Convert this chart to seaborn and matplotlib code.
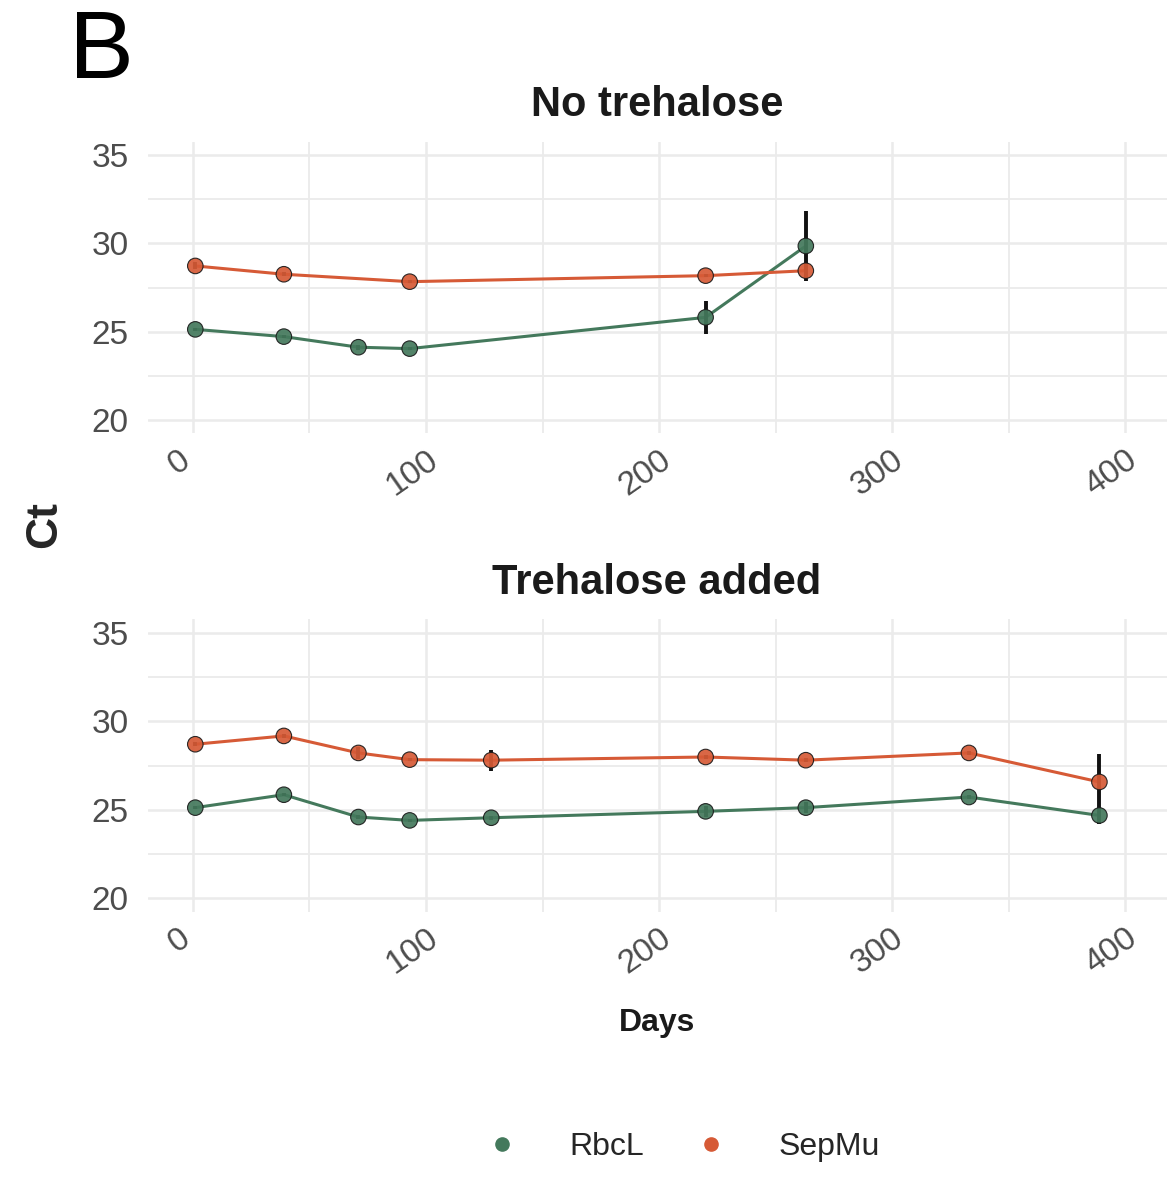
import matplotlib
matplotlib.use("Agg")
import matplotlib.pyplot as plt
import matplotlib.transforms as mtransforms
from matplotlib.lines import Line2D
import seaborn as sns
import numpy as np
import pandas as pd

# --- data ---
genes = ["RbcL", "SepMu"]
colors = {"RbcL": "#44795c", "SepMu": "#d65a36"}

# No trehalose
top_days_rbcl = [1, 39, 71, 93, 220, 263]
top_ct_rbcl = [25.13, 24.72, 24.12, 24.04, 25.81, 29.85]
top_sd_rbcl = [0.1, 0.1, 0.15, 0.1, 0.92, 2.0]
top_days_sepmu = [1, 39, 93, 220, 263]
top_ct_sepmu = [28.72, 28.25, 27.83, 28.17, 28.45]
top_sd_sepmu = [0.2, 0.1, 0.1, 0.1, 0.4]

# Trehalose added
bot_days = [1, 39, 71, 93, 128, 220, 263, 333, 389]
bot_ct_rbcl = [25.12, 25.85, 24.59, 24.40, 24.55, 24.91, 25.12, 25.72, 24.68]
bot_sd_rbcl = [0.1, 0.1, 0.1, 0.1, 0.1, 0.3, 0.3, 0.1, 0.5]
bot_ct_sepmu = [28.70, 29.17, 28.21, 27.83, 27.80, 27.98, 27.80, 28.21, 26.57]
bot_sd_sepmu = [0.1, 0.1, 0.35, 0.1, 0.6, 0.1, 0.1, 0.1, 1.6]

x_ticks = [0, 100, 200, 300, 400]
y_ticks = [20, 25, 30, 35]


def make_df(days_r, ct_r, sd_r, days_s, ct_s, sd_s):
    a = pd.DataFrame({"Days": days_r, "Ct": ct_r, "sd": sd_r, "Gene": "RbcL"})
    b = pd.DataFrame({"Days": days_s, "Ct": ct_s, "sd": sd_s, "Gene": "SepMu"})
    return pd.concat([a, b], ignore_index=True)


df_top = make_df(top_days_rbcl, top_ct_rbcl, top_sd_rbcl,
                 top_days_sepmu, top_ct_sepmu, top_sd_sepmu)
df_bot = make_df(bot_days, bot_ct_rbcl, bot_sd_rbcl,
                 bot_days, bot_ct_sepmu, bot_sd_sepmu)

sns.set_style("white")
plt.rcParams["font.family"] = ["Liberation Sans", "DejaVu Sans"]

W, H = 1167, 1201
fig = plt.figure(figsize=(W / 100, H / 100), dpi=100)


def panel(df, top_px, bottom_px):
    ax = fig.add_axes([148 / W, 1 - bottom_px / H, (W - 148) / W, (bottom_px - top_px) / H])
    sns.lineplot(data=df, x="Days", y="Ct", hue="Gene", palette=colors,
                 estimator=None, sort=True, lw=2.2, legend=False, ax=ax, zorder=2)
    ax.vlines(df["Days"], df["Ct"] - df["sd"], df["Ct"] + df["sd"],
              color="#111111", lw=2.8, zorder=2.5)
    sns.scatterplot(data=df, x="Days", y="Ct", hue="Gene", palette=colors,
                    s=125, edgecolor="#1a1a1a", linewidth=0.8, alpha=0.92,
                    legend=False, ax=ax, zorder=3)
    ax.set_xlim(-19.3, 418)
    ax.set_ylim(19.25, 35.75)
    ax.set_xticks(x_ticks)
    ax.set_xticks([50, 150, 250, 350], minor=True)
    ax.set_yticks(y_ticks)
    ax.set_yticks([22.5, 27.5, 32.5], minor=True)
    ax.grid(which="major", color="#ebebeb", lw=1.8)
    ax.grid(which="minor", color="#ebebeb", lw=1.3)
    for s in ax.spines.values():
        s.set_visible(False)
    ax.tick_params(which="both", length=0)
    ax.tick_params(axis="y", labelsize=24, labelcolor="#4d4d4d", pad=14)
    ax.tick_params(axis="x", labelsize=24, labelcolor="#4d4d4d", pad=8)
    ax.set_xlabel("")
    ax.set_ylabel("")
    shift = mtransforms.ScaledTranslation(-14 / 100, 0, fig.dpi_scale_trans)
    for lab in ax.get_xticklabels():
        lab.set_rotation(35)
        lab.set_ha("center")
        lab.set_transform(lab.get_transform() + shift)
    return ax


ax1 = panel(df_top, 141.75, 433.25)
ax2 = panel(df_bot, 619.4, 911.6)

fig.text(101 / W, 1 - 53 / H, "B", fontsize=70, ha="center", va="center", color="black")
fig.text(657 / W, 1 - 105 / H, "No trehalose", fontsize=30, fontweight="bold",
         ha="center", va="center", color="#1a1a1a")
fig.text(657 / W, 1 - 583 / H, "Trehalose added", fontsize=30, fontweight="bold",
         ha="center", va="center", color="#1a1a1a")
fig.text(45 / W, 1 - 525 / H, "Ct", fontsize=32, fontweight="bold",
         rotation=90, ha="center", va="center")
fig.text(657 / W, 1 - 1023 / H, "Days", fontsize=23, fontweight="bold",
         ha="center", va="center", color="#1a1a1a")

handles = [Line2D([], [], marker="o", ls="none", color=colors[g],
                  markeredgecolor=colors[g], markersize=9.5) for g in genes]
fig.legend(handles, genes, loc="center", bbox_to_anchor=(683 / W, 1 - 1147 / H),
           ncol=2, frameon=False, fontsize=23, handlelength=1,
           handletextpad=1.6, columnspacing=1.6)

fig.savefig("out.png", dpi=100)
